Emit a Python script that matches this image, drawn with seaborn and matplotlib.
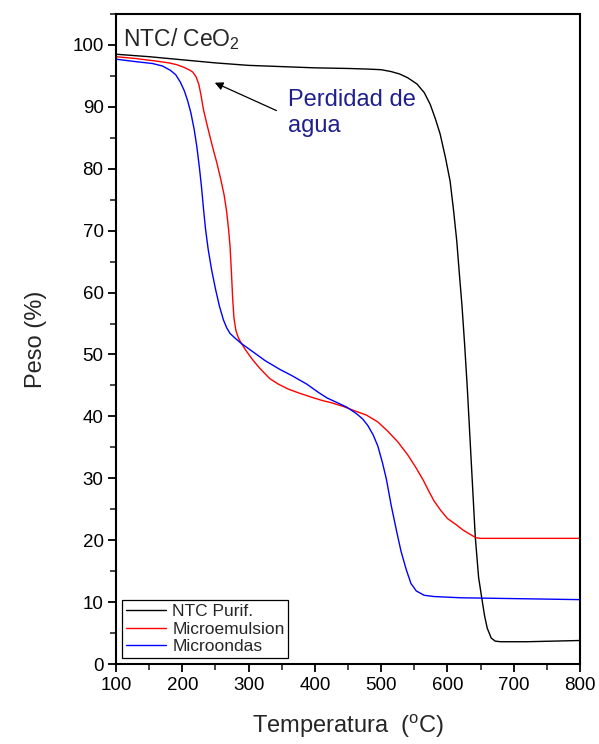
import numpy as np
import pandas as pd
import matplotlib
matplotlib.use("Agg")
import matplotlib.pyplot as plt
from matplotlib.ticker import MultipleLocator
import seaborn as sns

# Thermogravimetric curves (temperature in °C, remaining weight in %)
ntc_T = [100, 150, 200, 250, 300, 350, 400, 450, 480, 500, 515, 528, 540, 554,
         565, 574, 582, 589, 597, 604, 609, 614, 618, 622, 626, 630, 634, 638,
         642, 647, 652, 656, 660, 666, 672, 680, 720, 760, 800]
ntc_W = [98.5, 98.1, 97.6, 97.1, 96.7, 96.5, 96.3, 96.2, 96.1, 96.0, 95.7, 95.3,
         94.7, 93.7, 92.3, 90.4, 88.0, 85.6, 81.8, 78.0, 73.5, 68.4, 63.0, 57.8,
         51.5, 44.5, 36.5, 28.5, 20.5, 14.0, 10.5, 7.8, 5.8, 4.2, 3.7, 3.6, 3.6,
         3.7, 3.8]

emul_T = [100, 130, 160, 180, 192, 202, 210, 216, 221, 225, 228, 232, 238, 245,
          252, 258, 263, 267, 270, 272, 274, 276, 278, 281, 285, 288, 295, 305,
          315, 322, 332, 345, 360, 378, 395, 410, 425, 443, 460, 478, 495, 510,
          525, 540, 552, 564, 572, 580, 590, 600, 612, 624, 635, 643, 650, 700,
          750, 800]
emul_W = [98.1, 97.8, 97.4, 97.1, 96.8, 96.4, 96.0, 95.6, 94.8, 93.6, 92.0, 89.5,
          86.8, 83.8, 81.0, 78.3, 75.8, 73.0, 70.0, 67.5, 63.5, 59.0, 55.8, 53.8,
          52.6, 52.0, 50.8, 49.3, 48.0, 47.2, 46.1, 45.2, 44.4, 43.7, 43.1, 42.6,
          42.2, 41.6, 40.9, 40.2, 39.1, 37.6, 35.9, 33.8, 31.8, 29.6, 27.9, 26.3,
          24.8, 23.5, 22.6, 21.6, 20.9, 20.4, 20.3, 20.3, 20.3, 20.3]

micro_T = [100, 130, 155, 170, 182, 190, 197, 203, 208, 213, 218, 222, 226, 229,
           232, 235, 239, 244, 250, 256, 262, 267, 272, 280, 290, 307, 325, 347,
           365, 388, 405, 418, 432, 448, 462, 472, 480, 488, 495, 502, 508, 515,
           523, 530, 538, 545, 553, 565, 580, 620, 680, 740, 800]
micro_W = [97.7, 97.3, 97.0, 96.6, 95.9, 95.2, 94.0, 92.6, 91.0, 89.0, 86.3, 83.5,
           80.0, 77.0, 73.5, 70.3, 67.0, 63.8, 60.6, 57.8, 55.6, 54.3, 53.4, 52.6,
           51.7, 50.4, 49.0, 47.6, 46.6, 45.2, 43.9, 43.0, 42.3, 41.5, 40.5, 39.6,
           38.5, 37.0, 35.2, 32.5, 29.8, 25.7, 21.6, 18.2, 15.2, 13.0, 11.8, 11.1,
           10.9, 10.7, 10.6, 10.5, 10.4]

series_names = ["NTC Purif.", "Microemulsion", "Microondas"]
series_colors = ["black", "#ff0000", "#0000ff"]

df = pd.concat([
    pd.DataFrame({"T": ntc_T, "W": ntc_W, "Muestra": series_names[0]}),
    pd.DataFrame({"T": emul_T, "W": emul_W, "Muestra": series_names[1]}),
    pd.DataFrame({"T": micro_T, "W": micro_W, "Muestra": series_names[2]}),
], ignore_index=True)

sns.set_style("ticks")
plt.rcParams["font.family"] = ["Liberation Sans", "DejaVu Sans"]
plt.rcParams["mathtext.fontset"] = "custom"
plt.rcParams["mathtext.rm"] = "Liberation Sans"
plt.rcParams["mathtext.it"] = "Liberation Sans"

fig = plt.figure(figsize=(5.99, 7.44), dpi=100)
ax = fig.add_axes([0.1937, 0.1075, 0.7746, 0.8737])

sns.lineplot(data=df, x="T", y="W", hue="Muestra", hue_order=series_names,
             palette=series_colors, estimator=None, sort=False, linewidth=1.0,
             ax=ax)

ax.set_xlim(100, 800)
ax.set_ylim(0, 105)
ax.xaxis.set_major_locator(MultipleLocator(100))
ax.xaxis.set_minor_locator(MultipleLocator(50))
ax.yaxis.set_major_locator(MultipleLocator(10))
ax.yaxis.set_minor_locator(MultipleLocator(5))
ax.set_yticks(np.arange(0, 101, 10))
ax.tick_params(which="major", direction="out", length=6, width=1.3,
               labelsize=13.5, colors="black", pad=3)
ax.tick_params(which="minor", direction="out", length=4, width=1.2)
for s in ax.spines.values():
    s.set_linewidth(1.5)
    s.set_color("black")

ax.set_xlabel("Temperatura  ($^{\\mathrm{o}}$C)", fontsize=17, labelpad=14)
ax.set_ylabel("Peso (%)", fontsize=17, labelpad=18)

ax.text(0.015, 0.982, "NTC/ CeO$_2$", transform=ax.transAxes, fontsize=16.5,
        ha="left", va="top")

ax.annotate("", xy=(249, 93.9), xytext=(342, 89.4),
            arrowprops=dict(arrowstyle="-|>", color="black", lw=0.9,
                            mutation_scale=12, shrinkA=0, shrinkB=0))
ax.text(359, 92.9, "Perdidad de\nagua", fontsize=17, color="#1f1f8f",
        ha="left", va="top", linespacing=1.25)

leg = ax.legend(loc="lower left", fontsize=12.5, frameon=True, fancybox=False,
                edgecolor="black", framealpha=1, borderpad=0.2,
                handlelength=2.3, handletextpad=0.4, labelspacing=0.15,
                borderaxespad=0.35)
leg.get_frame().set_linewidth(0.9)
for line in leg.get_lines():
    line.set_linewidth(1.0)

fig.savefig("out.png", dpi=100)
